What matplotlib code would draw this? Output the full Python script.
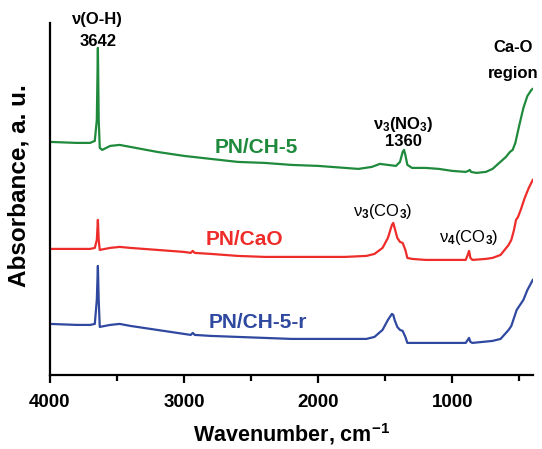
import numpy as np
import matplotlib
matplotlib.use("Agg")
import matplotlib.pyplot as plt
from matplotlib.ticker import MultipleLocator

plt.rcParams['font.family'] = ['Liberation Sans', 'DejaVu Sans']
plt.rcParams['mathtext.fontset'] = 'custom'
plt.rcParams['mathtext.rm'] = 'Liberation Sans:bold'
plt.rcParams['mathtext.bf'] = 'Liberation Sans:bold'
plt.rcParams['mathtext.default'] = 'rm'

# spectra (wavenumber, absorbance in arbitrary offset units)
wn_ch5 = [4000, 3800, 3700, 3665, 3650, 3642, 3636, 3628, 3610, 3550, 3480, 3400, 3200,
          3000, 2800, 2600, 2400, 2200, 2000, 1800, 1700, 1600, 1540, 1480, 1420, 1390,
          1370, 1360, 1350, 1335, 1300, 1200, 1100, 1000, 900, 880, 870, 860, 820, 750,
          700, 650, 600, 570, 550, 530, 500, 470, 440, 410, 400]
ab_ch5 = [233, 232, 232, 234, 255, 327, 255, 227, 225, 229, 230, 228, 223,
          219, 216, 213, 212, 210, 209, 207, 206, 208, 211, 210, 209, 213,
          223, 225, 220, 210, 207, 207, 206, 204, 203, 204, 205, 203, 202, 203,
          206, 212, 218, 223, 225, 232, 250, 267, 279, 285, 286]

wn_cao = [4000, 3800, 3700, 3665, 3650, 3642, 3636, 3628, 3550, 3480, 3400, 3200, 3000,
          2950, 2935, 2920, 2800, 2600, 2400, 2200, 2000, 1800, 1640, 1580, 1520, 1480,
          1450, 1440, 1430, 1410, 1390, 1370, 1350, 1335, 1300, 1200, 1000, 900, 885, 875,
          865, 850, 750, 700, 640, 580, 560, 540, 525, 510, 490, 460, 430, 400]
ab_cao = [126, 126, 126, 127, 135, 155, 135, 125, 127, 128, 127, 125, 123,
          122, 124, 122, 121, 119, 118, 118, 118, 118, 119, 121, 127, 137,
          150, 152, 147, 137, 133, 132, 125, 117, 116, 115, 115, 115, 120, 124,
          117, 115, 116, 117, 120, 130, 135, 145, 155, 158, 165, 177, 187, 195]

wn_ch5r = [4000, 3800, 3700, 3665, 3650, 3642, 3636, 3628, 3550, 3480, 3400, 3200, 3000,
           2950, 2935, 2920, 2800, 2600, 2400, 2200, 2000, 1800, 1640, 1580, 1520, 1480,
           1450, 1440, 1430, 1410, 1390, 1370, 1350, 1335, 1300, 1000, 900, 885, 875, 865,
           850, 700, 640, 580, 560, 540, 520, 500, 470, 440, 400]
ab_ch5r = [51, 50, 50, 51, 75, 109, 75, 48, 50, 51, 49, 45, 41,
           40, 42, 40, 39, 38, 37, 36, 36, 36, 36, 38, 45, 55,
           61, 60, 55, 48, 45, 44, 38, 32, 32, 32, 32, 35, 37, 33,
           32, 34, 36, 45, 49, 57, 65, 69, 75, 85, 95]

green = '#1f8a3c'
red = '#ee2d2a'
blue = '#2f48a0'

fig = plt.figure(figsize=(5.42, 4.49), dpi=100)
ax = fig.add_axes([0.092, 0.165, 0.891, 0.784])

ax.plot(wn_ch5, ab_ch5, color=green, lw=1.6)
ax.plot(wn_cao, ab_cao, color=red, lw=1.6)
ax.plot(wn_ch5r, ab_ch5r, color=blue, lw=1.6)

ax.set_xlim(4000, 400)
ax.set_ylim(0, 352)
ax.xaxis.set_major_locator(MultipleLocator(1000))
ax.xaxis.set_minor_locator(MultipleLocator(500))
ax.set_yticks([])
for side in ['top', 'right']:
    ax.spines[side].set_visible(False)
for side in ['left', 'bottom']:
    ax.spines[side].set_linewidth(1.6)
ax.tick_params(axis='x', which='major', length=6, width=1.6, labelsize=13.5, pad=8)
ax.tick_params(axis='x', which='minor', length=4, width=1.6)
for lab in ax.get_xticklabels():
    lab.set_fontweight('bold')

ax.set_xlabel('Wavenumber, cm$^{-1}$', fontsize=15.5, fontweight='bold', labelpad=7)
ax.set_ylabel('Absorbance, a. u.', fontsize=17.5, fontweight='bold')
ax.yaxis.set_label_coords(-0.04, 0.537)

# curve labels
ax.text(2462, 227, 'PN/CH-5', color=green, fontsize=15, fontweight='bold', ha='center', va='center')
ax.text(2548, 135, 'PN/CaO', color=red, fontsize=15, fontweight='bold', ha='center', va='center')
ax.text(2451, 52, 'PN/CH-5-r', color=blue, fontsize=15, fontweight='bold', ha='center', va='center')

# band annotations
ann = dict(fontsize=12, ha='center', va='center')
ax.text(3643, 355, 'ν(O-H)', fontweight='bold', **ann)
ax.text(3643, 333, '3642', fontweight='bold', **ann)
ax.text(1365, 250, 'ν$_3$(NO$_3$)', fontweight='bold', **ann)
ax.text(1365, 233, '1360', fontweight='bold', **ann)
ax.text(545, 327, 'Ca-O', fontweight='bold', **ann)
ax.text(545, 301, 'region', fontweight='bold', **ann)
ax.text(1520, 163, 'ν$_3$(CO$_3$)', **ann)
ax.text(880, 137, 'ν$_4$(CO$_3$)', **ann)

fig.savefig('out.png', dpi=100)
